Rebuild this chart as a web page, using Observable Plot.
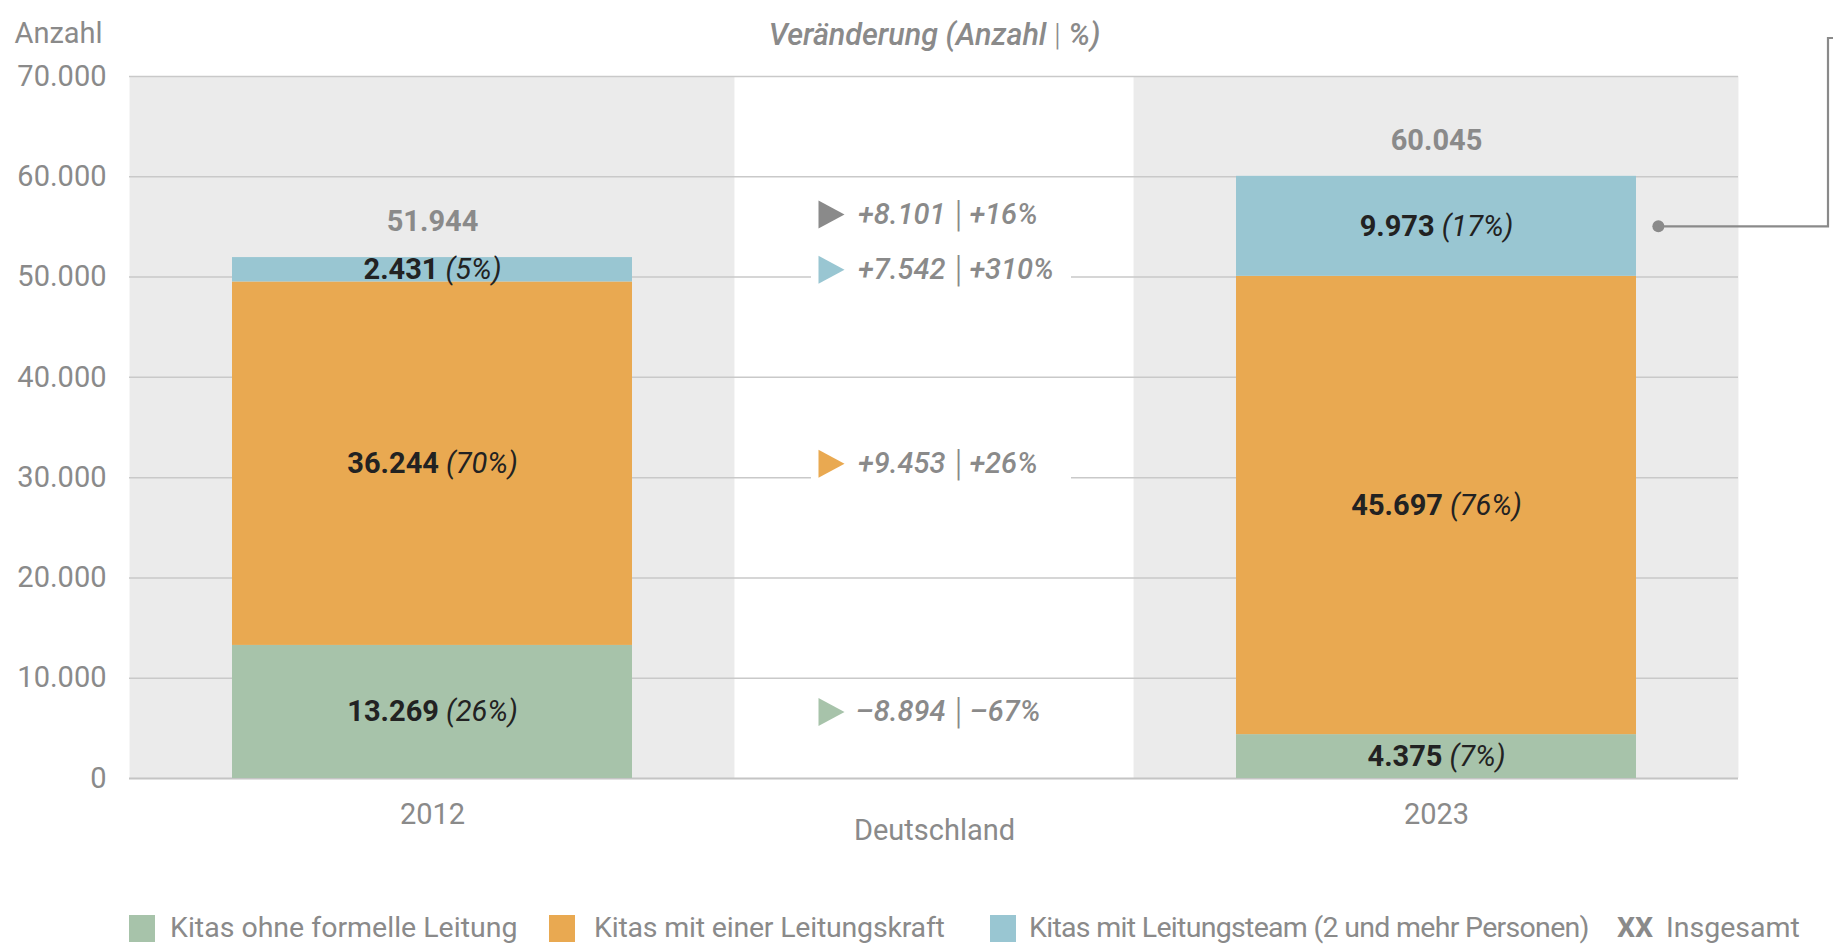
<!DOCTYPE html>
<html lang="de">
<head>
<meta charset="utf-8">
<script src="https://cdn.jsdelivr.net/npm/d3@7"></script>
<script src="https://cdn.jsdelivr.net/npm/@observablehq/plot@0.6"></script>
<style>
  html, body { margin: 0; padding: 0; background: #fff; }
  body { font-family: Roboto, "Noto Sans", sans-serif; width: 1833px; height: 945px; overflow: hidden; }
  #chart svg { display: block; overflow: visible; }
  #legend { position: relative; height: 45px; font-size: 28.5px; color: #8a8a8a; white-space: nowrap; }
  #legend > * { position: absolute; }
  #legend .sw { width: 26px; height: 27px; top: 15px; }
  #legend .lab { top: 11px; line-height: 34px; }
  #legend .xx { font-weight: bold; }
</style>
</head>
<body>
<div id="chart"></div>
<div id="legend"></div>
<script>
// ---------- data ----------
const categories = [
  "Kitas ohne formelle Leitung",
  "Kitas mit einer Leitungskraft",
  "Kitas mit Leitungsteam (2 und mehr Personen)"
];
const colors = ["#a7c3aa", "#e9a951", "#99c6d2"];
const years = ["2012", "2023"];
const middleLabel = "Deutschland";
const values2012 = [13269, 36244, 2431];
const values2023 = [4375, 45697, 9973];
const shares2012 = [26, 70, 5];
const shares2023 = [7, 76, 17];
const totals = [51944, 60045];
const changeAbs = [-8894, 9453, 7542];
const changePct = [-67, 26, 310];
const totalChangeAbs = 8101;
const totalChangePct = 16;
const yTicks = [0, 10000, 20000, 30000, 40000, 50000, 60000, 70000];
const yLabel = "Anzahl";
const changeTitle = "Veränderung (Anzahl | %)";
const totalLegend = "Insgesamt";

// ---------- helpers ----------
const de = d3.formatLocale({decimal: ",", thousands: ".", grouping: [3], currency: ["", " €"]});
const fmt = de.format(",d");
const signed = v => (v < 0 ? "–" : "+") + fmt(Math.abs(v));
const signedPct = v => (v < 0 ? "–" : "+") + Math.abs(v) + "%";

const W = 1833, H = 900;
const mL = 129, mR = 95, mT = 76, mB = 122;
const pad = 0.204;
const xDomain = [years[0], middleLabel, years[1]];
const step = (W - mL - mR) / (xDomain.length - pad + 2 * pad);
const gap = step * pad;
const bw = step * (1 - pad);
const yMax = yTicks[yTicks.length - 1];

const rows = [];
years.forEach((yr, j) => categories.forEach((c, i) => rows.push({
  year: yr, category: c,
  value: j === 0 ? values2012[i] : values2023[i],
  share: j === 0 ? shares2012[i] : shares2023[i]
})));
const totalRows = years.map((yr, j) => ({year: yr, total: totals[j]}));
const changeRows = categories.map((c, i) => ({
  category: c, base: values2012[i], abs: changeAbs[i], pct: changePct[i]
}));
const totalChange = [{total: totals[0], abs: totalChangeAbs, pct: totalChangePct}];

const triRight = {
  draw(ctx, size) {
    const r = Math.sqrt(size / Math.PI);
    ctx.moveTo(-r * 0.93, -r);
    ctx.lineTo(r * 0.93, 0);
    ctx.lineTo(-r * 0.93, r);
    ctx.closePath();
  }
};
// white box behind change labels (interrupts grid lines)
const labelBox = { draw(ctx) { ctx.rect(-130, -19, 260, 38); } };

const mid = () => middleLabel;
const grey = "#8a8a8a";

const stackOpts = o => Plot.stackY({z: "category", order: categories, ...o});

function changeMarks(data, yOpt, extra, dyv) {
  const base = {x: mid, ...yOpt, dy: dyv, fill: grey, fontSize: 29};
  const parts = [
    {text: d => signed(d.abs), textAnchor: "end", dx: 11, fontStyle: "italic", fontWeight: 500},
    {text: () => "|", textAnchor: "middle", dx: 24, fontStyle: "normal", fontWeight: 300, fontSize: 36},
    {text: d => signedPct(d.pct), textAnchor: "start", dx: 35, fontStyle: "italic", fontWeight: 500}
  ];
  const wrap = o => extra ? extra(o) : o;
  return parts.map(p => Plot.text(data, wrap({...base, ...p})));
}

const plot = Plot.plot({
  width: W, height: H,
  marginLeft: mL, marginRight: mR, marginTop: mT, marginBottom: mB,
  style: {fontFamily: "Roboto, 'Noto Sans', sans-serif", fontSize: "29px", color: grey, background: "white", overflow: "visible"},
  x: {type: "band", domain: xDomain, padding: pad, label: null, tickSize: 0, tickPadding: 25,
      tickFormat: d => d === middleLabel ? "" : d},
  y: {domain: [0, yMax], ticks: yTicks, label: null, tickSize: 0, tickPadding: 23, tickFormat: d => fmt(d)},
  color: {domain: categories, range: colors},
  marks: [
    // grey backgrounds
    Plot.barY(years, {x: d => d, y1: () => 0, y2: () => yMax, fill: "#ebebeb", insetLeft: -gap, insetRight: -gap}),
    // grid
    Plot.ruleY(yTicks.filter(t => t > 0), {stroke: "#c9c9c9", strokeWidth: 1.5}),
    Plot.ruleY([0], {stroke: "#c4c4c4", strokeWidth: 2}),
    // stacked bars
    Plot.barY(rows, {x: "year", y: "value", fill: "category", z: "category", order: categories}),
    // segment labels
    Plot.text(rows, stackOpts({x: "year", y: "value", text: d => `${fmt(d.value)} (${d.share}%)`,
      fill: "#222", fontWeight: "bold", fontSize: 29})),
    // totals
    Plot.text(totalRows, {x: "year", y: "total", text: d => fmt(d.total), dy: -36,
      fill: grey, fontWeight: "bold", fontSize: 29}),
    // change label boxes
    Plot.dot(changeRows, stackOpts({x: mid, y: "base", symbol: labelBox, r: 1, dx: 6.5, fill: "white"})),
    // triangles
    Plot.dot(changeRows, stackOpts({x: mid, y: "base", symbol: triRight, r: 14, dx: -103, fill: "category"})),
    Plot.dot(totalChange, {x: mid, y: "total", symbol: triRight, r: 14, dx: -103, dy: -43, fill: grey}),
    ...changeMarks(changeRows, {y: "base"}, stackOpts, 0),
    ...changeMarks(totalChange, {y: "total"}, null, -43),
    // bottom middle label
    Plot.text([middleLabel], {x: d => d, frameAnchor: "bottom", dy: 61, text: d => d, fill: grey, fontSize: 29}),
    // headings
    Plot.text([yLabel], {frameAnchor: "top-left", dx: -115, dy: -54, textAnchor: "start", text: d => d, fill: grey, fontSize: 29}),
    Plot.text([changeTitle], {x: mid, frameAnchor: "top", dy: -53, text: d => d, fill: grey, fontSize: 30.5,
      fontStyle: "italic", fontWeight: 500}),
    // annotation dot (at the 2023 team segment)
    Plot.dot(rows.filter(d => d.year === years[1]),
      Plot.filter(d => d.category === categories[2],
        stackOpts({x: "year", y: "value", r: 6, fill: grey, dx: bw / 2 + 22})))
  ]
});

document.getElementById("chart").appendChild(plot);

// mixed styling inside labels
d3.select(plot).selectAll("text").each(function () {
  const t = this.textContent;
  const m = t.match(/^(\S+) (\(\d+%\))$/);
  const s = d3.select(this);
  if (m) {
    s.text(null);
    s.append("tspan").attr("font-weight", "bold").text(m[1]);
    s.append("tspan").attr("font-weight", "normal").attr("font-style", "italic").text(" " + m[2]);
  } else if (t.includes("|") && t.length > 1) {
    const [a, b] = t.split("|");
    s.text(null);
    s.append("tspan").text(a);
    s.append("tspan").attr("font-style", "normal").attr("font-weight", 300).text("|");
    s.append("tspan").text(b);
  }
});

// leader line from annotation dot to the right edge
const svgRect = plot.getBoundingClientRect();
const circ = plot.querySelector("circle");
if (circ) {
  const r = circ.getBoundingClientRect();
  const cx = r.x + r.width / 2 - svgRect.x, cy = r.y + r.height / 2 - svgRect.y;
  d3.select(plot).append("path")
    .attr("d", `M${cx},${cy}H${W - 5}V38H${W}`)
    .attr("fill", "none").attr("stroke", grey).attr("stroke-width", 2.2);
}

// legend
const leg = document.getElementById("legend");
const swatchX = [129, 549, 990];
const labelX = [170, 594, 1029];
const labelSpacing = ["0px", "-0.2px", "-0.7px"];
categories.forEach((c, i) => {
  const sw = document.createElement("div");
  sw.className = "sw"; sw.style.left = swatchX[i] + "px"; sw.style.background = colors[i];
  leg.appendChild(sw);
  const lb = document.createElement("span");
  lb.className = "lab"; lb.style.left = labelX[i] + "px"; lb.style.letterSpacing = labelSpacing[i];
  lb.textContent = c;
  leg.appendChild(lb);
});
const xx = document.createElement("span");
xx.className = "lab xx"; xx.style.left = "1617px"; xx.textContent = "XX";
leg.appendChild(xx);
const ins = document.createElement("span");
ins.className = "lab"; ins.style.left = "1666px"; ins.textContent = totalLegend;
leg.appendChild(ins);
</script>
</body>
</html>
